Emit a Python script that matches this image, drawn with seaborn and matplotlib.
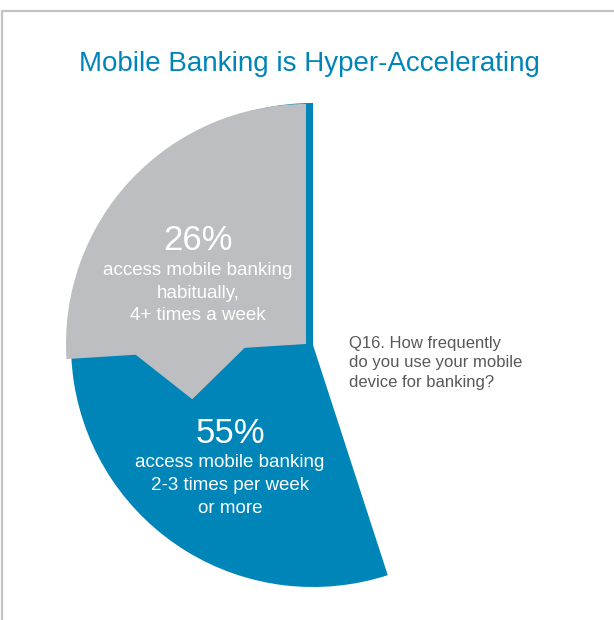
import matplotlib
matplotlib.use("Agg")
import matplotlib.pyplot as plt
from matplotlib.patches import Polygon
import numpy as np
import seaborn as sns

# ---- data -------------------------------------------------------------
title = "Mobile Banking is Hyper-Accelerating"
segments = ["habitual", "weekly"]
shares = [26, 55]  # percent of respondents
descriptions = [
    ["access mobile banking", "habitually,", "4+ times a week"],
    ["access mobile banking", "2-3 times per week", "or more"],
]
question = ["Q16. How frequently", "do you use your mobile", "device for banking?"]

# ---- style ------------------------------------------------------------
sns.set_theme(style="white")
plt.rcParams["font.family"] = ["Liberation Sans", "DejaVu Sans"]

BLUE = "#0085B8"
GREY = "#BDBEC2"
TEXT_GREY = "#58585A"
FRAME = "#C4C4C6"

W, H = 614, 620
fig = plt.figure(figsize=(W / 100, H / 100), dpi=100)
ax = fig.add_axes([0, 0, 1, 1])


def up(y):
    """Convert a top-down pixel row to the axes' bottom-up coordinate."""
    return H - y


# weekly users: wedge from 12 o'clock sweeping counter-clockwise
blue_center = (313, up(345))
ax.pie([shares[1], 100 - shares[1]], colors=[BLUE, "none"], startangle=90,
       counterclock=True, center=blue_center, radius=242,
       wedgeprops=dict(linewidth=0), frame=True)

# habitual users: smaller slice laid over the start of the weekly wedge
grey_center = (306, up(344))
grey_radius = 240
ax.pie([shares[0], 100 - shares[0]], colors=[GREY, "none"], startangle=90,
       counterclock=True, center=grey_center, radius=grey_radius,
       wedgeprops=dict(linewidth=0), frame=True)

# pointer hanging from the lower edge of the habitual slice
theta = np.radians(90 + 3.6 * shares[0])
u = np.array([np.cos(theta), np.sin(theta)])
n = np.array([-np.sin(theta), np.cos(theta)])
c = np.array(grey_center, dtype=float)
pointer = [c + u * 58 - n * 3, c + u * 117 + n * 48, c + u * 174 - n * 3]
ax.add_patch(Polygon(pointer, closed=True, facecolor=GREY, edgecolor="none"))

# frame lines along the top and left
ax.plot([1, W], [up(10.5), up(10.5)], color=FRAME, lw=1.6, solid_capstyle="butt")
ax.plot([2, 2], [0, up(10.5)], color=FRAME, lw=1.6, solid_capstyle="butt")

# ---- text -------------------------------------------------------------
ax.text(309, up(71), title, color=BLUE, fontsize=20, ha="center", va="baseline")

label_layout = [
    dict(x=198, pct_base=250, first=275, step=22.5),
    dict(x=230, pct_base=443, first=467, step=22.8),
]
for value, lines, lay in zip(shares, descriptions, label_layout):
    ax.text(lay["x"], up(lay["pct_base"]), f"{value}%", color="white",
            fontsize=25, ha="center", va="baseline")
    for i, line in enumerate(lines):
        ax.text(lay["x"], up(lay["first"] + i * lay["step"]), line,
                color="white", fontsize=13.5, ha="center", va="baseline")

for i, line in enumerate(question):
    ax.text(349, up(348 + i * 19.5), line, color=TEXT_GREY, fontsize=12,
            ha="left", va="baseline")

ax.set_xlim(0, W)
ax.set_ylim(0, H)
ax.set_aspect("equal")
ax.axis("off")
fig.savefig("out.png", dpi=100, facecolor="white")
